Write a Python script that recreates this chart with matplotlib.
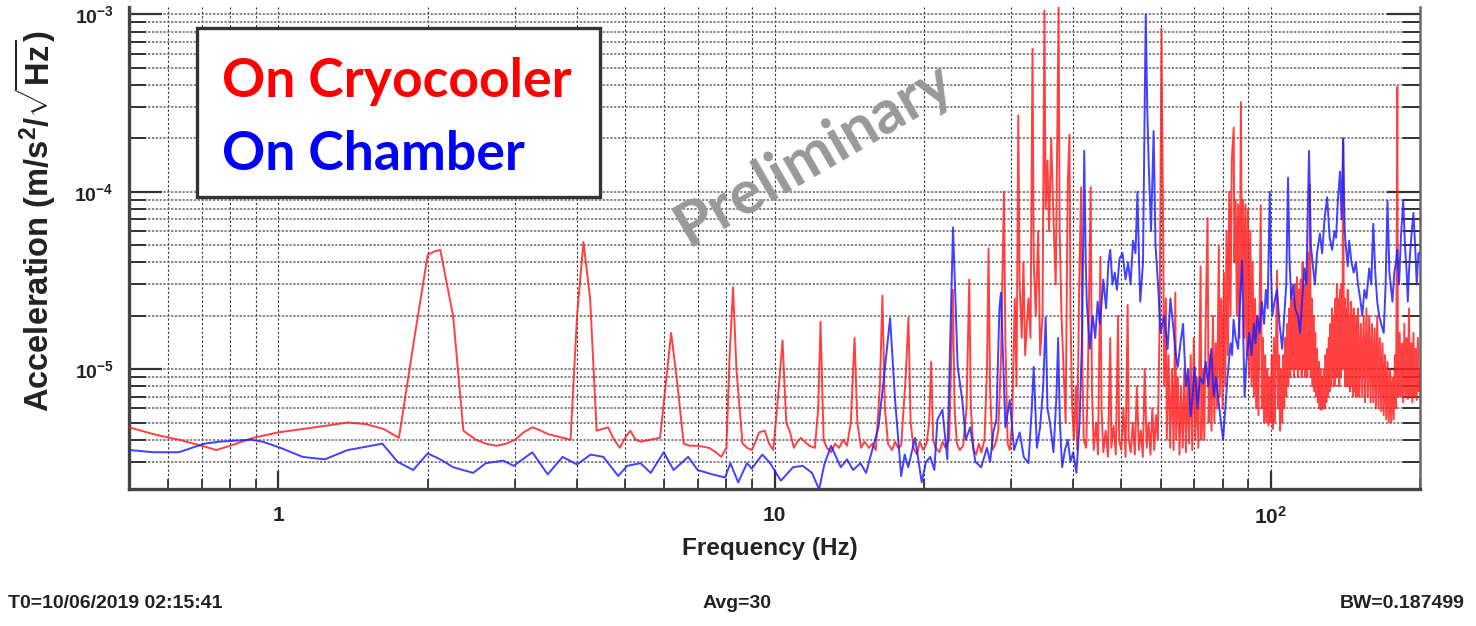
import numpy as np
import matplotlib
matplotlib.use("Agg")
import matplotlib.pyplot as plt
from matplotlib.ticker import FixedLocator, NullFormatter, LogLocator
from matplotlib.patches import Rectangle

plt.rcParams['font.family'] = ['Liberation Sans', 'DejaVu Sans']
plt.rcParams['mathtext.fontset'] = 'custom'
plt.rcParams['mathtext.rm'] = 'Liberation Sans'
plt.rcParams['mathtext.bf'] = 'Liberation Sans:bold'
plt.rcParams['mathtext.it'] = 'Liberation Sans:italic'

# spectra: (frequency in Hz, acceleration in 1e-6 m/s^2/sqrt(Hz))
cryo_low = [
    (0.50, 4.7), (0.56, 4.3), (0.63, 4.0), (0.70, 3.7), (0.75, 3.5), (0.80, 3.7),
    (0.89, 4.1), (1.00, 4.4), (1.12, 4.6), (1.25, 4.8), (1.38, 5.0), (1.50, 4.9),
    (1.63, 4.6), (1.75, 4.1), (1.88, 15), (2.00, 44), (2.06, 46), (2.12, 47),
    (2.25, 20), (2.36, 4.5), (2.50, 4.0), (2.62, 3.8), (2.75, 3.7), (2.88, 3.8),
    (3.00, 4.0), (3.12, 4.4), (3.25, 4.7), (3.38, 4.5), (3.50, 4.3), (3.75, 4.1),
    (3.88, 4.0), (4.00, 20), (4.12, 52), (4.25, 25), (4.38, 4.5), (4.50, 4.6),
    (4.62, 4.7), (4.75, 4.0), (4.88, 3.6), (5.00, 4.1), (5.12, 4.5), (5.25, 4.0),
    (5.38, 3.9), (5.62, 4.0), (5.88, 4.1), (6.00, 7), (6.19, 16), (6.38, 8),
    (6.56, 3.8), (6.75, 3.7), (7.00, 3.7), (7.38, 3.6), (7.62, 3.4), (7.81, 3.2),
    (8.00, 3.6), (8.12, 12), (8.25, 29), (8.38, 10), (8.62, 3.8), (8.81, 3.6),
    (9.00, 3.5), (9.19, 4.0), (9.31, 4.4), (9.56, 4.5), (9.75, 3.8), (9.94, 3.5),
]
cryo_mid = [
    (10.12, 6), (10.38, 14.5), (10.56, 5), (10.75, 4.4), (10.94, 3.6), (11.12, 3.9),
    (11.31, 4.1), (11.5, 3.9), (11.75, 3.7), (12.06, 3.6), (12.25, 6), (12.38, 18.5),
    (12.56, 4), (12.75, 3.6), (13.0, 3.4), (13.25, 3.8), (13.5, 3.6), (13.75, 4.0),
    (14.0, 3.7), (14.25, 5), (14.5, 15), (14.69, 5), (14.94, 3.6), (15.19, 3.9),
    (15.5, 3.6), (15.75, 3.8), (16.0, 3.5), (16.31, 8), (16.5, 26), (16.69, 6),
    (16.94, 3.8), (17.25, 3.5), (17.5, 3.9), (17.75, 3.6), (18.0, 3.7), (18.38, 9),
    (18.62, 19.5), (18.81, 5), (19.06, 3.6), (19.38, 3.3), (19.62, 3.9), (19.94, 3.5),
    (20.25, 3.8), (20.5, 5), (20.69, 11), (20.88, 4), (21.12, 3.6), (21.5, 3.4),
    (21.81, 3.9), (22.12, 3.6), (22.5, 4), (22.88, 28), (23.06, 6), (23.31, 3.8),
    (23.62, 3.5), (24.0, 3.7), (24.38, 6), (24.69, 32), (24.88, 6), (25.19, 3.5),
    (25.5, 3.3), (25.81, 3.8), (26.12, 3.4), (26.5, 4), (26.81, 10), (27.0, 48),
    (27.19, 8), (27.5, 3.5), (27.88, 3.8), (28.25, 4.5), (28.62, 12), (29.0, 100),
    (29.19, 15), (29.5, 3.8), (29.81, 3.5),
]
cryo_30_60 = [
    (30.12, 5), (30.5, 25), (30.75, 8), (31.0, 270), (31.19, 30), (31.5, 15),
    (31.75, 40), (32.0, 12), (32.5, 25), (32.81, 15), (33.12, 640), (33.31, 40),
    (33.62, 20), (34.0, 60), (34.31, 12), (34.69, 20), (35.0, 1050), (35.19, 80),
    (35.5, 150), (35.75, 60), (36.12, 200), (36.5, 70), (36.88, 30), (37.38, 1100),
    (37.56, 60), (37.88, 20), (38.25, 10), (38.62, 5), (39.0, 110), (39.31, 210),
    (39.5, 20), (39.81, 6), (40.12, 4), (40.5, 8), (40.75, 3.5), (41.12, 30),
    (41.5, 106), (41.75, 10), (42.0, 4), (42.5, 3.6), (42.88, 12), (43.38, 106),
    (43.62, 8), (44.0, 3.5), (44.5, 5), (44.88, 3.3), (45.38, 43), (45.62, 6),
    (46.0, 3.4), (46.5, 4.5), (47.0, 3.2), (47.5, 15), (47.75, 3.6), (48.25, 4.8),
    (48.75, 3.3), (49.25, 20), (49.5, 4), (50.0, 3.5), (50.5, 6), (51.0, 3.2),
    (51.5, 23), (51.75, 4), (52.25, 3.4), (52.75, 5), (53.25, 3.3), (53.75, 8),
    (54.25, 3.5), (54.75, 4.5), (55.25, 3.2), (55.75, 10), (56.25, 3.6), (56.75, 5),
    (57.25, 3.3), (57.75, 6), (58.25, 3.5), (58.75, 5.5), (59.25, 4), (59.75, 20),
]
cryo_60_100 = [
    (60.25, 830), (60.5, 190), (60.75, 50), (61.0, 8), (61.5, 25), (61.75, 4),
    (62.25, 12), (62.75, 3.6), (63.25, 10), (63.75, 3.5), (64.25, 27), (64.5, 4),
    (65.0, 9), (65.5, 3.3), (66.0, 8), (66.5, 3.6), (67.0, 10), (67.5, 3.4),
    (68.0, 9), (68.5, 3.8), (69.0, 12), (69.5, 3.5), (70.0, 15), (70.5, 4),
    (71.0, 9), (71.5, 3.6), (72.25, 38), (72.5, 4), (73.0, 10), (73.5, 4),
    (74.0, 20), (74.62, 71), (75.0, 5), (75.5, 12), (76.0, 4.5), (76.5, 20),
    (77.0, 5), (77.5, 14), (78.0, 6), (78.62, 49), (79.0, 7), (79.5, 25),
    (80.0, 6), (80.5, 35), (81.0, 8), (81.5, 60), (82.0, 12), (82.5, 100),
    (83.0, 20), (83.5, 150), (84.25, 230), (84.5, 40), (85.0, 90), (85.5, 20),
    (86.0, 85), (86.5, 15), (87.12, 320), (87.5, 30), (88.0, 90), (88.5, 15),
    (89.0, 85), (89.5, 12), (90.0, 80), (90.5, 9), (91.0, 60), (91.5, 8),
    (92.0, 40), (92.5, 7), (93.0, 25), (93.5, 6), (94.0, 20), (94.5, 5.5),
    (95.5, 84), (96.0, 6), (96.5, 15), (97.0, 5), (97.5, 12), (98.0, 5),
    (98.5, 10), (99.0, 4.8), (99.5, 9),
]
cryo_100_200 = [
    (100.0, 5), (100.5, 12), (101.0, 4.6), (101.5, 15), (102.0, 5), (103.0, 36),
    (103.5, 6), (104.0, 12), (104.5, 4.5), (105.0, 10), (105.5, 5), (106.0, 12),
    (106.5, 6), (107.0, 15), (107.5, 7), (108.0, 18), (108.5, 8), (109.0, 22),
    (109.5, 9), (110.0, 28), (110.5, 10), (111.0, 25), (111.5, 9), (112.0, 30),
    (112.5, 10), (113.0, 33), (113.5, 9), (114.0, 28), (114.5, 10), (115.0, 32),
    (115.5, 9), (116.0, 40), (116.5, 10), (117.0, 30), (117.5, 9), (118.0, 35),
    (118.5, 9), (119.0, 45), (119.5, 10), (120.0, 110), (120.5, 9), (121.0, 25),
    (121.5, 8), (122.0, 20), (122.5, 7.5), (123.0, 16), (123.5, 7), (124.0, 13),
    (124.5, 6.5), (125.0, 11), (125.5, 6), (126.0, 10), (126.5, 5.9), (127.0, 9),
    (127.5, 6), (128.0, 10), (128.5, 6), (129.0, 12), (129.5, 6.5), (130.0, 13),
    (130.5, 7), (131.0, 15), (131.5, 7.5), (132.0, 18), (132.5, 8), (133.0, 22),
    (133.5, 9), (134.0, 20), (134.5, 8), (135.0, 25), (135.5, 9), (136.0, 30),
    (136.5, 9), (137.0, 25), (137.5, 8), (138.0, 28), (138.5, 9), (139.0, 30),
    (139.5, 10), (140.0, 200), (140.5, 10), (141.0, 25), (141.5, 8), (142.0, 22),
    (142.5, 8), (143.0, 28), (143.5, 8), (144.0, 20), (144.5, 7.5), (145.0, 24),
    (145.5, 8), (146.0, 20), (146.5, 7), (147.0, 22), (147.5, 7.5), (148.0, 18),
    (148.5, 7), (149.0, 20), (149.5, 7), (150.0, 22), (151.0, 7), (152.0, 18),
    (153.0, 7), (154.0, 20), (155.0, 6.5), (156.0, 22), (157.0, 7), (158.0, 20),
    (159.0, 6.5), (160.0, 18), (161.0, 6.5), (162.0, 17), (163.0, 6), (164.0, 20),
    (165.0, 6), (166.0, 15), (167.0, 5.8), (168.0, 14), (169.0, 5.5), (170.0, 12),
    (171.0, 5.2), (172.0, 11), (173.0, 5), (174.0, 10), (175.0, 5), (176.0, 9),
    (177.0, 5.2), (178.0, 12), (179.0, 6), (180.0, 390), (180.5, 12), (181.0, 7),
    (182.0, 16), (183.0, 7), (184.0, 14), (185.0, 6.5), (186.0, 18), (187.0, 7),
    (188.0, 15), (189.0, 6.8), (190.0, 22), (191.0, 7), (192.0, 14), (193.0, 6.5),
    (194.0, 16), (195.0, 7), (196.0, 13), (197.0, 6.7), (198.0, 15), (199.0, 7.5),
    (200.0, 10),
]

chamber_low = [
    (0.50, 3.5), (0.56, 3.4), (0.63, 3.4), (0.71, 3.8), (0.76, 3.9), (0.88, 4.0),
    (0.93, 3.9), (1.01, 3.6), (1.12, 3.2), (1.24, 3.1), (1.38, 3.5), (1.46, 3.6),
    (1.62, 3.8), (1.74, 3.0), (1.87, 2.7), (2.00, 3.35), (2.12, 3.1), (2.25, 2.8),
    (2.47, 2.6), (2.62, 2.95), (2.84, 3.05), (2.98, 2.85), (3.25, 3.4), (3.49, 2.55),
    (3.74, 3.2), (4.00, 2.9), (4.26, 3.3), (4.52, 3.2), (4.84, 2.5), (5.05, 2.85),
    (5.37, 2.95), (5.63, 2.6), (5.98, 3.4), (6.26, 2.7), (6.70, 3.2), (7.00, 2.7),
    (7.50, 2.55), (7.95, 2.45), (8.15, 2.95), (8.45, 2.3), (8.80, 2.95), (9.00, 2.75),
    (9.45, 3.3), (9.80, 2.95), (10.3, 2.35), (10.9, 2.8), (11.4, 2.85), (11.9, 2.6),
    (12.3, 2.1), (12.6, 2.9), (13.0, 3.7), (13.6, 2.8), (14.0, 3.1), (14.4, 2.7),
    (14.9, 2.95), (15.3, 2.6), (15.6, 3.2),
]
chamber_mid = [
    (16.2, 4.7), (16.6, 8.7), (17.1, 19.4), (17.5, 6.7), (18.0, 2.5), (18.3, 3.3),
    (18.6, 2.8), (19.2, 4.1), (19.8, 2.3), (20.2, 3.0), (20.6, 3.2), (21.0, 2.7),
    (21.3, 5.2), (21.8, 5.9), (22.3, 3.1), (22.9, 63), (23.4, 10.3), (23.9, 6.7),
    (24.3, 4.0), (24.8, 4.7), (25.4, 3.0), (26.1, 2.8), (26.8, 3.6), (27.2, 3.0),
    (27.6, 4.4), (28.0, 5.2), (28.4, 22), (28.6, 27), (29.2, 4.7), (29.8, 6.7),
    (30.4, 3.5), (31.2, 4.4), (31.8, 3.2), (32.5, 2.95), (33.0, 6), (33.3, 10.3),
    (33.8, 3.6), (34.3, 4.7), (34.8, 8), (35.2, 19.6), (35.5, 6), (35.9, 5),
    (36.5, 3.4), (37.0, 7), (37.3, 15), (37.6, 5), (38.0, 2.8), (38.5, 3.5),
    (39.0, 4.0), (39.5, 3.0), (40.0, 3.4), (40.6, 2.6), (41.2, 5), (41.7, 16),
]
chamber_high = [
    (42.1, 170), (42.4, 40), (42.6, 24), (43.2, 13), (43.8, 20), (44.3, 15),
    (44.8, 24), (45.3, 18), (46.0, 32), (46.6, 22), (47.1, 40), (47.5, 47),
    (48.0, 30), (48.5, 35), (49.0, 28), (49.6, 42), (50.3, 45), (51.0, 32),
    (51.6, 40), (52.2, 30), (52.8, 53), (53.4, 45), (53.9, 100), (54.3, 40),
    (54.6, 24), (55.3, 40), (56.0, 1000), (56.4, 300), (56.8, 140), (57.4, 60),
    (58.1, 220), (58.6, 50), (59.3, 30), (60.0, 16), (61.0, 20), (62.0, 13),
    (62.8, 25), (63.8, 16), (64.4, 12), (65.0, 10.3), (65.8, 14), (66.6, 18),
    (67.5, 8), (68.2, 10), (69.0, 5.4), (69.6, 7), (70.3, 10.3), (71.2, 6),
    (72.0, 9), (73.1, 8.3), (74.0, 11), (74.8, 8), (75.9, 13), (76.8, 7),
    (77.6, 9), (78.5, 6.7), (79.4, 5), (80.2, 4.0), (81.0, 6), (81.6, 8),
    (82.2, 10.3), (83.0, 14), (83.6, 12), (84.2, 19), (85.0, 15), (86.0, 13),
    (86.8, 25), (87.6, 41), (88.1, 15), (88.6, 7), (89.4, 11), (90.5, 16),
    (91.5, 12), (92.5, 18), (93.2, 14), (94.0, 20), (95.0, 16), (96.0, 24),
    (97.0, 18), (97.8, 28), (98.6, 22), (99.6, 100),
]
chamber_top = [
    (100.2, 35), (100.8, 20), (101.8, 24), (103.0, 28), (104.2, 18), (105.5, 13),
    (106.5, 20), (107.5, 30), (108.4, 120), (109.2, 40), (110.0, 25), (111.0, 30),
    (112.0, 22), (113.5, 20), (114.6, 16), (115.8, 25), (117.0, 37), (118.0, 30),
    (119.5, 170), (120.5, 50), (121.8, 37), (122.8, 30), (124.0, 45), (125.7, 58),
    (127.0, 45), (128.5, 72), (130.0, 93), (131.5, 55), (133.0, 47), (134.5, 60),
    (135.5, 55), (136.6, 89), (138.0, 130), (139.0, 70), (140.0, 200), (141.0, 60),
    (142.0, 47), (143.0, 38), (144.0, 53), (145.5, 40), (147.0, 35), (148.5, 40),
    (150.0, 30), (151.5, 25), (153.0, 20), (154.5, 28), (156.0, 25), (158.0, 37),
    (159.5, 30), (161.0, 66), (162.5, 35), (164.0, 24), (165.5, 20), (167.0, 18),
    (169.0, 16), (170.5, 30), (172.0, 89), (173.5, 35), (175.0, 28), (176.0, 24),
    (177.5, 35), (179.0, 40), (180.0, 47), (181.5, 30), (183.0, 55), (185.0, 89),
    (186.5, 50), (188.0, 35), (189.0, 24), (190.0, 35), (191.0, 45), (192.5, 60),
    (194.0, 76), (195.5, 50), (197.0, 30), (198.5, 45), (200.0, 45),
]

x_major = [1, 10, 100]
x_labels = ['1', '10', r'$\mathbf{10^{2}}$']
y_major = [1e-5, 1e-4, 1e-3]
y_labels = [r'$\mathbf{10^{-5}}$', r'$\mathbf{10^{-4}}$', r'$\mathbf{10^{-3}}$']

cryo = np.array(cryo_low + cryo_mid + cryo_30_60 + cryo_60_100 + cryo_100_200)
chamber = np.array(chamber_low + chamber_mid + chamber_high + chamber_top)

W, H = 1476, 626
fig = plt.figure(figsize=(W / 100, H / 100), dpi=100)
ax = fig.add_axes([129 / W, 137 / H, 1291 / W, 482 / H])

ax.plot(cryo[:, 0], cryo[:, 1] * 1e-6, color='#ff2020', lw=1.4, alpha=0.85, zorder=3)
ax.plot(chamber[:, 0], chamber[:, 1] * 1e-6, color='#2020ff', lw=1.4, alpha=0.85, zorder=4)

ax.set_xscale('log')
ax.set_yscale('log')
ax.set_xlim(0.5, 200)
ax.set_ylim(2.11e-6, 1.1e-3)

ax.xaxis.set_major_locator(FixedLocator(x_major))
ax.set_xticklabels(x_labels)
ax.xaxis.set_minor_locator(LogLocator(base=10, subs=range(2, 10), numticks=20))
ax.xaxis.set_minor_formatter(NullFormatter())
ax.yaxis.set_major_locator(FixedLocator(y_major))
ax.set_yticklabels(y_labels)
ax.yaxis.set_minor_locator(LogLocator(base=10, subs=range(2, 10), numticks=20))
ax.yaxis.set_minor_formatter(NullFormatter())

# ROOT-like dotted grid on every tick
ax.grid(True, which='both', axis='x', ls=(0, (2, 2)), color='#333333', lw=0.8, zorder=1)
ax.grid(True, which='both', axis='y', ls=(0, (1.5, 1)), color='#666666', lw=1.1, zorder=1)

ax.tick_params(axis='y', which='major', direction='in', length=24, width=1.6,
               left=True, right=True, colors='#333333', labelcolor='#222222',
               labelsize=14, pad=11)
ax.tick_params(axis='y', which='minor', direction='in', length=12, width=1.4,
               left=True, right=True, colors='#333333')
ax.tick_params(axis='x', which='major', direction='in', length=13, width=1.6,
               bottom=True, top=False, colors='#333333', labelcolor='#222222',
               labelsize=15, pad=12)
ax.tick_params(axis='x', which='minor', direction='in', length=7, width=1.3,
               bottom=True, top=False, colors='#333333')
for lab in ax.get_xticklabels():
    lab.set_fontweight('bold')

ax.spines['top'].set_visible(False)
for side in ['left', 'bottom']:
    ax.spines[side].set_linewidth(2.4)
    ax.spines[side].set_color('#444444')
ax.spines['right'].set_linewidth(1.8)
ax.spines['right'].set_color('#666666')

# axis titles
fig.text(770 / W, 1 - 548 / H, 'Frequency (Hz)', ha='center', va='center',
         fontsize=17.5, fontweight='bold', color='#222222')
fig.text(35 / W, 1 - 221 / H,
         r'Acceleration (m/s$^{\mathbf{2}}$/$\sqrt{\mathbf{Hz}}$)',
         rotation=90, ha='center', va='center', fontsize=23.5,
         fontweight='bold', color='#222222')

# legend box
fig.patches.append(Rectangle((197 / W, 1 - 197 / H), 403 / W, 169 / H,
                             transform=fig.transFigure, facecolor='white',
                             edgecolor='#333333', lw=2.4, zorder=10))
fig.text(222 / W, 1 - 97 / H, 'On Cryocooler', color='#ff0000', fontsize=38.5,
         family=['Lato', 'DejaVu Sans'], fontweight='bold', va='baseline', zorder=11)
fig.text(222 / W, 1 - 170 / H, 'On Chamber', color='#0000ff', fontsize=38.5,
         family=['Lato', 'DejaVu Sans'], fontweight='bold', va='baseline', zorder=11)

fig.text(814 / W, 1 - 154 / H, 'Preliminary', color='#999999', fontsize=44,
         family=['Lato', 'DejaVu Sans'], fontweight='bold', rotation=30,
         rotation_mode='anchor', ha='center', va='center', zorder=11)

# footer
fig.text(8 / W, 1 - 604 / H, 'T0=10/06/2019 02:15:41', ha='left', va='center',
         fontsize=14, fontweight='bold', color='#222222')
fig.text(737 / W, 1 - 604 / H, 'Avg=30', ha='center', va='center',
         fontsize=14, fontweight='bold', color='#222222')
fig.text(1465 / W, 1 - 604 / H, 'BW=0.187499', ha='right', va='center',
         fontsize=14, fontweight='bold', color='#222222')

fig.savefig('out.png', dpi=100)
